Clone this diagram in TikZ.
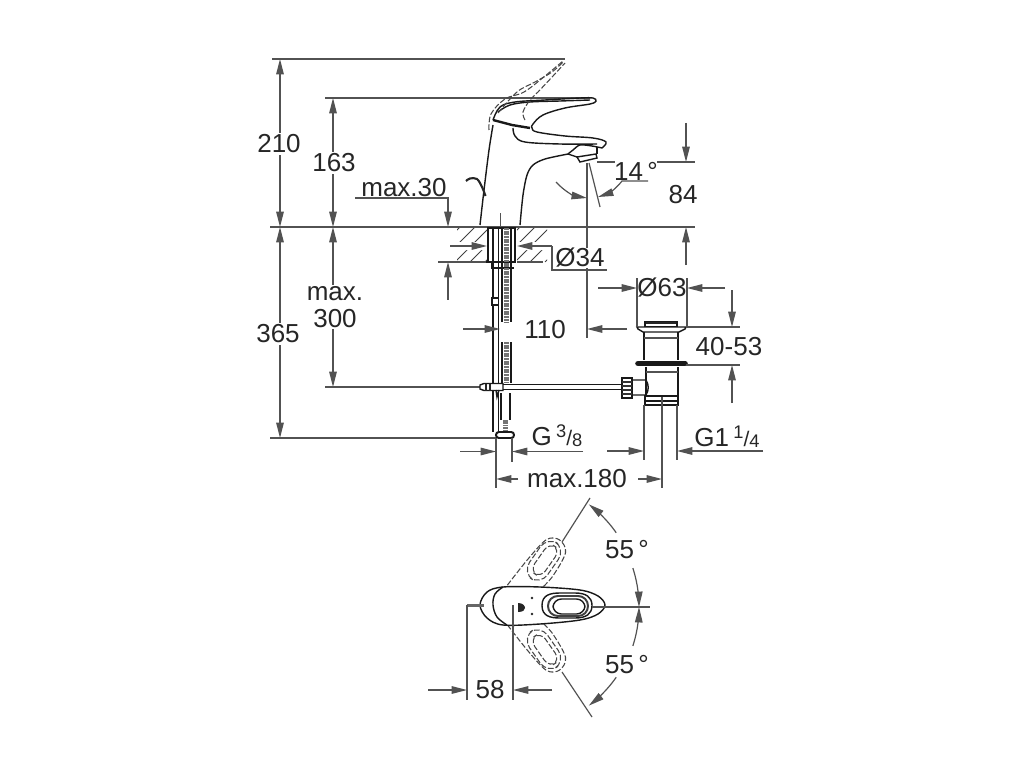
\documentclass[tikz,border=0pt]{standalone}
\usepackage{fontspec}
\setmainfont{Liberation Sans}
\usetikzlibrary{arrows.meta}
\newcommand{\upfrac}[2]{\raisebox{5.5pt}{\fontsize{13}{13}\selectfont #1}{\fontsize{15}{15}\selectfont /}\raisebox{-1pt}{\fontsize{13}{13}\selectfont #2}}
\tikzset{
	lab/.style={fill=white,inner sep=1.5pt,text=black!85,font=\fontsize{18.5}{20}\selectfont},
	plainlab/.style={lab,fill=none},
	dimline/.style={line width=0.85pt,color=black!68},
	body/.style={line width=1pt,color=black!90},
	thick body/.style={line width=1.7pt,color=black!90},
	ghost/.style={line width=0.75pt,color=black!72,dash pattern=on 4pt off 1.5pt},
}
\begin{document}
\begin{tikzpicture}[x=0.025cm,y=-0.025cm,>={Triangle[length=11pt,width=5.4pt]}]
	\useasboundingbox (0,0) rectangle (1024,768);
	% extension lines
	\draw[dimline] (272,59)--(565,59);
	\draw[dimline] (325,98)--(590,98);
	\draw[dimline] (270,227)--(695,227);
	\draw[dimline] (325,387)--(482,387);
	\draw[dimline] (270,438)--(497,438);
	% left dimensions
	\draw[dimline,<->] (280,59)--(280,227);
	\draw[dimline,<->] (280,227)--(280,438);
	\draw[dimline,<->] (333,98)--(333,227);
	\draw[dimline,<->] (333,227)--(333,387);
	\node[lab] (d210) at (279,144) {210};
	\node[lab] (d365) at (278,334) {365};
	\node[lab] (d163) at (334,163) {163};
	\node[lab,align=center,inner sep=1pt] (d300) at (335,307) {max.\\[-1pt]300};
	% max.30
	\draw[dimline,->] (355,198)--(448,198)--(448,227);
	\node[plainlab] (d30) at (404,188) {max.30};
	\draw[dimline,<-] (448,262)--(448,300);
	% counter top
	\begin{scope}
		\clip (457,228) rectangle (487,262) (517,228) rectangle (547,262);
		\foreach \h in {425,440,...,545} \draw[line width=0.7pt,color=black!75] (\h,262)--(\h+35,227);
	\end{scope}
	\fill[white] (450,242) rectangle (488,250) (516,242) rectangle (552,250);
	\draw[dimline] (438,262)--(487,262) (517,262)--(543,262);
	\draw[dimline,->] (450,246)--(487,246);
	\draw[dimline,->] (552,246)--(517,246);
	\draw[dimline] (552,246)--(552,270)--(607,270);
	% faucet
	\draw[body] plot[smooth,tension=.5] coordinates {(480,225) (484,190) (489,150) (493,125)};
	\draw[body] plot[smooth,tension=.5] coordinates {(520,225) (523,195) (527,175) (533,165) (545,159) (568,154)};
	\draw[thick body] (493,120)--(512,125)--(530,128);
	\draw[body] plot[smooth,tension=.6] coordinates {(493,120) (500,107) (515,102) (545,100) (580,98) (593,98) (596,101) (590,104) (565,108) (543,115) (533,124) (532,128) (537,132) (565,136) (593,138) (606,142) (602,148)};
	\draw[body] plot[smooth,tension=.6] coordinates {(513,128) (515,136) (525,142) (560,144) (597,144)};
	\draw[body] plot[smooth,tension=.5] coordinates {(568,154) (573,150) (580,145) (592,146) (602,148)};
	\draw[body] (597,147)--(597,154);
	\draw[body,fill=white] (577,157)--(596,154)--(597,158)--(580,162)--cycle;
	\draw[body] (568,154)--(577,157);
	\draw[body] plot[smooth,tension=.6] coordinates {(498,112) (510,105) (530,102) (560,101) (590,100)};
	% raised lever
	\draw[ghost] plot[smooth,tension=.6] coordinates {(489,130) (491,114) (505,99) (524,92) (545,76) (563,61)};
	\draw[ghost] plot[smooth,tension=.6] coordinates {(498,113) (517,92) (535,82) (552,72) (563,62)};
	\draw[ghost] plot[smooth,tension=.6] coordinates {(525,120) (523,112) (530,100) (538,92) (553,76) (565,63)};
	% stop rod
	\draw[line width=1.5pt,color=black!85] plot[smooth,tension=.6] coordinates {(466,181) (470,178.5) (477,179) (482,187) (485.5,196)};
	\draw[dimline] (500.5,213)--(500.5,227);
	% shank and hoses
	\draw[body] (488,227)--(488,262) (515,227)--(515,262);
	\draw[body] (488,228)--(515,228);
	\draw[body] (486,262)--(516,262) (492,262)--(492,268)--(514,268);
	\draw[body] (493,228)--(493,432) (498.5,228)--(498.5,432);
	\draw[line width=4pt,color=black!55,dash pattern=on 1.4pt off 0.5pt] (506.5,228)--(506.5,322);
	\draw[line width=4pt,color=black!55,dash pattern=on 1.4pt off 0.5pt] (506.5,342)--(506.5,383);
	\draw[body] (502,228)--(502,322) (511,228)--(511,322) (502,342)--(502,383) (511,342)--(511,383);
	\draw[body,fill=white] (492,298) rectangle (498.5,305);
	\draw[body] (501,393)--(501,420) (510,393)--(510,420);
	\draw[line width=3pt,color=black!55,dash pattern=on 1.2pt off 0.5pt] (505.5,420)--(505.5,431);
	\draw[line width=1.4pt,color=black!90,fill=white,rounded corners=2pt] (496,432) rectangle (514,438);
	% connecting rod
	\draw[body,fill=white] (480,385)--(484,383.5)--(503,383.5)--(503,390.5)--(484,390.5)--(480,389)--cycle;
	\draw[line width=2pt,color=black!85] (486,383.5)--(486,390.5) (490,383.5)--(490,390.5);
	\draw[body] (496,390)--(497,397)--(499,390);
	\draw[body] (503,384.5)--(622,384.5) (503,389.5)--(622,389.5);
	% waste fitting
	\draw[body] (645,322) rectangle (677,327);
	\draw[line width=1.6pt,color=black!85] (646,323)--(676,323);
	\draw[body,fill=white] (637,327)--(686,327)--(685,329)--(679,332)--(643,332)--(638,329)--cycle;
	\draw[body] (644,332)--(644,360) (678,332)--(678,360);
	\draw[dimline] (644,338)--(678,338);
	\draw[line width=4pt,color=black!90,line cap=round] (638,363.5)--(685,363.5);
	\draw[body] (646,367)--(646,396) (678,367)--(678,396);
	\draw[dimline] (646,372)--(678,372);
	\draw[body] (645,396) rectangle (678,405);
	\draw[body] (645,401)--(678,401);
	\draw[body] (622,378) rectangle (632,398);
	\foreach \n in {382,386,390,394} \draw[line width=1.3pt,color=black!80] (622,\n)--(632,\n);
	\draw[body] (632,380)--(646,380) (632,395)--(646,395) (646,380) .. controls (649,385) and (649,390) .. (646,395);
	% outlet dimensions
	\draw[dimline] (587,163)--(587,338);
	\draw[dimline] (597,162)--(615,162);
	\draw[dimline] (589,163)--(600,207);
	\draw[dimline,->] (556,182) .. controls (565,192) and (575,196) .. (587,198);
	\draw[dimline,->] (648,181)--(622,181) .. controls (615,190) and (607,194) .. (598,197);
	\node[plainlab] (d14) at (636,171) {14\,°};
	\draw[dimline] (657,162)--(695,162);
	\draw[dimline,->] (686,123)--(686,162);
	\draw[dimline,->] (686,265)--(686,227);
	\node[plainlab] (d84) at (683,195) {84};
	\node[lab,inner sep=0.5pt] (d34) at (580,258) {Ø34};
	\draw[dimline] (587,272)--(587,338);
	% 110
	\draw[dimline,->] (463,329)--(500,329);
	\draw[dimline,->] (627,329)--(587,329);
	\node[plainlab] (d110) at (545,330) {110};
	% 63
	\draw[dimline] (637,278)--(637,327) (687,278)--(687,327);
	\draw[dimline,->] (598,288)--(637,288);
	\draw[dimline,->] (725,288)--(687,288);
	\node[plainlab] (d63) at (662,288) {Ø63};
	% 40-53
	\draw[dimline] (686,327)--(740,327) (686,365)--(740,365);
	\draw[dimline,->] (732,290)--(732,327);
	\draw[dimline,->] (732,403)--(732,365);
	\node[plainlab] (d40) at (729,347) {40-53};
	% thread dimensions
	\draw[dimline] (496,438)--(496,488) (512,438)--(512,462);
	\draw[dimline] (644,405)--(644,460) (677,405)--(677,460) (662,397)--(662,488);
	\draw[dimline,->] (460,451.5)--(496,451.5);
	\draw[dimline,->] (583,451.5)--(512,451.5);
	\node[plainlab] (dg38) at (557,436) {G\,\upfrac{3}{8}};
	\draw[dimline,->] (607,451)--(644,451);
	\draw[dimline,->] (763,451)--(677,451);
	\node[plainlab] (dg14) at (727,437) {G1\,\upfrac{1}{4}};
	% 180
	\draw[dimline,->] (518,479)--(496,479);
	\draw[dimline,->] (638,479)--(662,479);
	\node[plainlab] (d180) at (577,479) {max.180};
	% top view
	\foreach \s in {1,-1} {
		\begin{scope}[shift={(513,605)},yscale=\s,rotate=55,shift={(-513,-605)}]
			\draw[ghost] plot[smooth,tension=.55] coordinates {(526,589) (560,591) (586,595) (593,606) (586,618) (560,621) (544,619)};
			\draw[ghost,rounded corners=9pt] (545,594) rectangle (589,616);
			\draw[ghost,rounded corners=6pt] (551,599) rectangle (585,612);
		\end{scope}
	}
	\draw[body,fill=white] plot[smooth cycle,tension=.55] coordinates {(480,605) (487,592) (503,587) (540,587) (580,590) (598,596) (605,605) (598,614) (580,620) (540,624) (503,625) (487,618)};
	\draw[body] plot[smooth,tension=.6] coordinates {(503,587) (495,594) (493,605) (497,617) (507,625)};
	\draw[body] (542,605.5) .. controls (542,595) and (550,593) .. (560,593)--(575,593) .. controls (586,593) and (592,597) .. (592,605.5) .. controls (592,614) and (586,618) .. (575,618)--(560,618) .. controls (550,618) and (542,616) .. (542,605.5);
	\draw[line width=1.4pt,color=black!75,rounded corners=7pt] (548,596) rectangle (588,616);
	\draw[body,rounded corners=6pt] (553,599) rectangle (585,614);
	\draw[line width=1.8pt,color=black!60] (467,605.5)--(484,605.5);
	\fill[black!85] (518,603) .. controls (523,603) and (525,606) .. (525,608) .. controls (525,610) and (523,612) .. (518,612)--cycle;
	\fill[black!85] (532,598) circle(1pt) (532,614) circle(1pt);
	\draw[dimline] (592,607)--(650,607);
	\draw[dimline] (562,542)--(590,498);
	\draw[dimline] (562,672)--(592,717);
	% 58
	\draw[dimline] (467,605)--(467,700) (513,605)--(513,700);
	\draw[dimline,->] (428,690)--(467,690);
	\draw[dimline,->] (552,690)--(513,690);
	\node[plainlab] (d58) at (490,690) {58};
	% 55 degrees
	\draw[dimline,->] plot[domain=35:53,samples=12] ({513+126*cos(\x)},{605-126*sin(\x)});
	\draw[dimline,->] plot[domain=18:0,samples=12] ({513+126*cos(\x)},{607-126*sin(\x)});
	\draw[dimline,->] plot[domain=18:0,samples=12] ({513+126*cos(\x)},{607+126*sin(\x)});
	\draw[dimline,->] plot[domain=35:53,samples=12] ({513+126*cos(\x)},{605+126*sin(\x)});
	\node[plainlab] (d55a) at (627,550) {55\,°};
	\node[plainlab] (d55b) at (627,665) {55\,°};
\end{tikzpicture}
\end{document}
